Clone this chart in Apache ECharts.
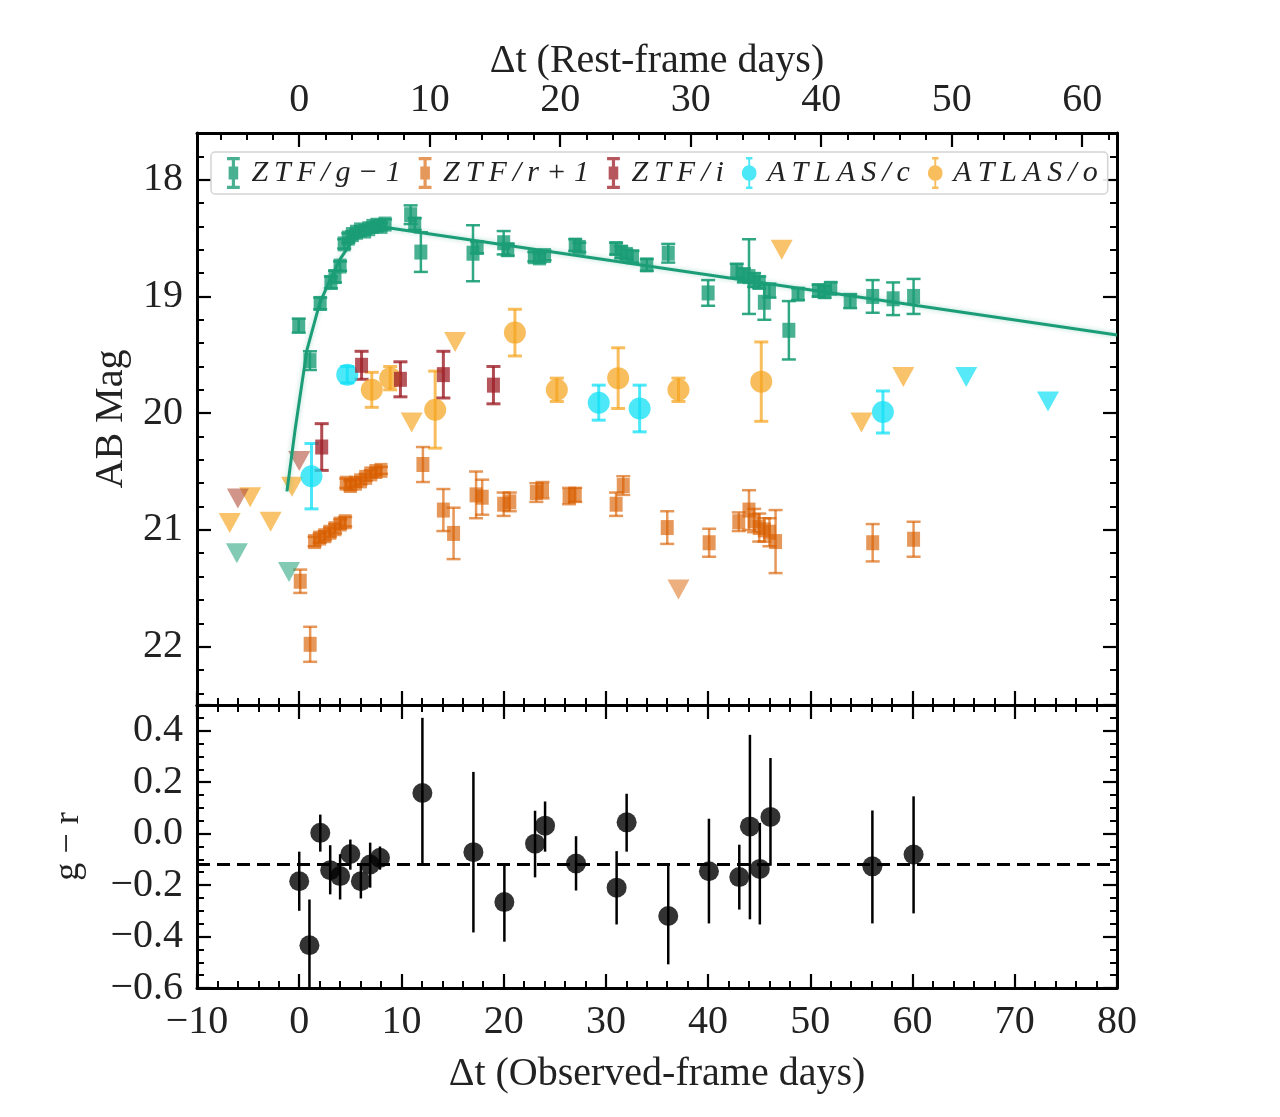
<!DOCTYPE html>
<html>
<head>
<meta charset="utf-8">
<title>Light curve</title>
<script src="https://cdn.jsdelivr.net/npm/echarts@6/dist/echarts.min.js"></script>
<style>
  html, body { margin: 0; padding: 0; background: #fff; }
  #main { width: 1280px; height: 1117px; }
</style>
</head>
<body>
<div id="main"></div>
<script>
// ---- data (observed-frame days, AB mag, 1 sigma) ----
// ZTF/g - 1
var gDays = [-0.05, 1.05, 2.05, 3.1, 3.5, 4.0, 4.4, 4.8, 5.2, 5.6, 6.0, 6.4, 6.8, 7.2, 7.6, 8.0, 8.4, 10.9, 11.3, 11.9, 17.0, 17.4, 20.0, 20.4, 23.0, 23.5, 24.0, 27.0, 27.4, 31.0, 31.5, 32.0, 32.6, 34.0, 36.1, 40.0, 42.8, 43.5, 44.0, 44.5, 45.0, 45.5, 46.0, 47.9, 48.8, 50.8, 51.4, 52.0, 53.9, 56.1, 58.1, 60.1];
var gMag = [19.25, 19.55, 19.06, 18.88, 18.83, 18.74, 18.55, 18.5, 18.47, 18.45, 18.43, 18.44, 18.42, 18.4, 18.39, 18.4, 18.38, 18.3, 18.38, 18.62, 18.63, 18.58, 18.54, 18.6, 18.66, 18.67, 18.65, 18.56, 18.58, 18.59, 18.62, 18.64, 18.66, 18.73, 18.63, 18.97, 18.78, 18.82, 18.83, 18.86, 18.88, 19.05, 18.95, 19.29, 18.98, 18.95, 18.96, 18.93, 19.04, 19.0, 19.02, 19.0];
var gErr = [0.06, 0.08, 0.05, 0.05, 0.05, 0.04, 0.04, 0.04, 0.03, 0.03, 0.03, 0.03, 0.03, 0.03, 0.03, 0.03, 0.04, 0.08, 0.05, 0.17, 0.24, 0.05, 0.1, 0.05, 0.04, 0.04, 0.04, 0.05, 0.04, 0.05, 0.05, 0.04, 0.05, 0.05, 0.08, 0.11, 0.06, 0.06, 0.32, 0.06, 0.05, 0.15, 0.06, 0.25, 0.05, 0.05, 0.05, 0.05, 0.06, 0.14, 0.14, 0.15];
// ZTF/r + 1
var rDays = [0.1, 1.07, 1.5, 2.0, 2.5, 3.0, 3.5, 4.0, 4.5, 4.6, 5.0, 5.5, 6.0, 6.5, 7.0, 7.5, 8.0, 12.1, 14.1, 15.1, 17.3, 17.9, 20.0, 20.6, 23.2, 23.8, 26.4, 27.0, 31.0, 31.7, 36.0, 40.1, 43.0, 44.0, 44.5, 45.0, 45.5, 46.0, 46.6, 56.1, 60.1];
var rMag = [21.44, 21.98, 21.1, 21.07, 21.05, 21.02, 20.99, 20.95, 20.93, 20.6, 20.62, 20.6, 20.58, 20.55, 20.52, 20.5, 20.49, 20.44, 20.83, 21.03, 20.7, 20.72, 20.78, 20.76, 20.68, 20.66, 20.71, 20.7, 20.78, 20.62, 20.98, 21.11, 20.93, 20.83, 20.92, 20.98, 21.0, 21.02, 21.1, 21.11, 21.08];
var rErr = [0.1, 0.15, 0.04, 0.04, 0.04, 0.04, 0.04, 0.04, 0.04, 0.04, 0.04, 0.03, 0.03, 0.03, 0.03, 0.03, 0.03, 0.15, 0.18, 0.22, 0.2, 0.15, 0.1, 0.08, 0.08, 0.07, 0.07, 0.06, 0.1, 0.08, 0.14, 0.12, 0.08, 0.17, 0.1, 0.12, 0.1, 0.12, 0.27, 0.16, 0.15];
// ZTF/i
var iDays = [2.2, 6.1, 9.9, 14.1, 19.0];
var iMag = [20.29, 19.59, 19.71, 19.67, 19.76];
var iErr = [0.2, 0.12, 0.15, 0.2, 0.16];
// ATLAS/c
var cDays = [1.2, 4.7, 29.3, 33.3, 57.1];
var cMag = [20.54, 19.67, 19.91, 19.96, 19.99];
var cErr = [0.28, 0.07, 0.15, 0.2, 0.18];
// ATLAS/o
var oDays = [7.1, 8.9, 13.3, 21.1, 25.2, 31.2, 37.1, 45.2];
var oMag = [19.8, 19.7, 19.97, 19.31, 19.8, 19.7, 19.8, 19.73];
var oErr = [0.15, 0.1, 0.33, 0.2, 0.1, 0.26, 0.1, 0.34];

// upper limits (down triangles)
var gLimDays = [-6.1, -1.0], gLimMag = [21.2, 21.36];
var iLimDays = [-6.0, 0.0], iLimMag = [20.73, 20.41];
var rLimDays = [37.1], rLimMag = [21.51];
var oLimDays = [-6.8, -4.8, -2.8, -0.7, 11.0, 15.25, 47.2, 55.0, 59.1];
var oLimMag = [20.94, 20.72, 20.93, 20.63, 20.08, 19.39, 18.6, 20.08, 19.69];
var cLimDays = [65.25, 73.25], cLimMag = [19.69, 19.9];

// model curve for g
var fitDays = [-1.2, -0.4, 0.75, 2, 3, 4, 5, 6, 7, 8.5, 80];
var fitMag = [20.67, 20.14, 19.46, 19.06, 18.86, 18.68, 18.55, 18.47, 18.43, 18.41, 19.33];

// g - r colour
var grDays = [0.0, 1.0, 2.06, 3.03, 4.0, 5.0, 6.03, 6.94, 7.9, 12.05, 17.04, 20.07, 23.07, 24.05, 27.08, 31.05, 32.03, 36.1, 40.08, 43.05, 44.09, 45.06, 46.1, 56.07, 60.1];
var grVal = [-0.185, -0.434, 0.003, -0.142, -0.165, -0.079, -0.185, -0.12, -0.094, 0.158, -0.072, -0.266, -0.039, 0.031, -0.116, -0.21, 0.044, -0.32, -0.146, -0.169, 0.028, -0.137, 0.065, -0.127, -0.081];
var grHi = [-0.07, -0.256, 0.074, -0.045, -0.08, -0.023, -0.12, -0.035, -0.05, 0.45, 0.24, -0.123, 0.089, 0.125, -0.01, -0.068, 0.155, -0.123, 0.058, -0.043, 0.384, 0.042, 0.294, 0.09, 0.145];
var grLo = [-0.30, -0.65, -0.07, -0.236, -0.256, -0.14, -0.252, -0.21, -0.14, -0.123, -0.384, -0.42, -0.17, -0.07, -0.221, -0.353, -0.07, -0.508, -0.349, -0.295, -0.333, -0.353, -0.125, -0.349, -0.31];
var grMean = -0.123;

// axes
var obsTicks = [-10, 80];
var restFactor = 1.2766;           // 1 + z
var restLabels = [0, 10, 20, 30, 40, 50, 60];
var restMinor = [-6, -4, -2, 2, 4, 6, 8, 12, 14, 16, 18, 22, 24, 26, 28, 32, 34, 36, 38, 42, 44, 46, 48, 52, 54, 56, 58, 62];
var magLabels = [18, 19, 20, 21, 22];
var magRange = [17.6, 22.5];
var grRange = [-0.6, 0.5];

var chart = echarts.init(document.getElementById('main'));

var FONT = 'Liberation Serif';
var teal = '#1b9e77', orange = '#d95f02', dred = '#9e1f28', cyan = '#11e0f5', gold = '#f5a31a';

function zip2(a, b) { return a.map(function (v, i) { return [v, b[i]]; }); }
function zipErr(x, m, e) { return x.map(function (v, i) { return [v, m[i] - e[i], m[i] + e[i]]; }); }
function zipLoHi(x, lo, hi) { return x.map(function (v, i) { return [v, lo[i], hi[i]]; }); }
function minus(s) { return String(s).replace('-', '\u2212'); }

// error bars with optional caps
function errRender(color, cap, lw, op) {
    return function (params, api) {
        var a = api.coord([api.value(0), api.value(1)]);
        var b = api.coord([api.value(0), api.value(2)]);
        var st = { stroke: color, lineWidth: lw, opacity: op };
        var kids = [{ type: 'line', shape: { x1: a[0], y1: a[1], x2: b[0], y2: b[1] }, style: st }];
        if (cap) {
            kids.push({ type: 'line', shape: { x1: a[0] - cap / 2, y1: a[1], x2: a[0] + cap / 2, y2: a[1] }, style: st });
            kids.push({ type: 'line', shape: { x1: b[0] - cap / 2, y1: b[1], x2: b[0] + cap / 2, y2: b[1] }, style: st });
        }
        return { type: 'group', children: kids };
    };
}

function errSeries(data, color, cap, lw, op, xi, yi) {
    return {
        type: 'custom', xAxisIndex: xi, yAxisIndex: yi, clip: true, silent: true,
        renderItem: errRender(color, cap, lw, op),
        encode: { x: 0, y: [1, 2] },
        data: data, z: 2
    };
}

function markSeries(name, data, color, symbol, size, op) {
    return {
        name: name, type: 'scatter', xAxisIndex: 0, yAxisIndex: 0,
        symbol: symbol, symbolSize: size,
        itemStyle: { color: color, opacity: op },
        data: data, z: 3
    };
}

function limSeries(data, color, op) {
    return {
        type: 'scatter', xAxisIndex: 0, yAxisIndex: 0,
        symbol: 'triangle', symbolRotate: 180, symbolSize: [22, 20],
        itemStyle: { color: color, opacity: op },
        data: data, z: 3
    };
}

var lineBlack = { show: true, onZero: false, lineStyle: { color: '#000', width: 3 } };
var lineNone = { show: false, onZero: false };
var tickMajor = { show: true, inside: true, length: 14, lineStyle: { color: '#000', width: 2.2 } };
var tickMinor = { show: true, inside: true, length: 7, lineStyle: { color: '#000', width: 2 } };
var minorX = { show: true, splitNumber: 5, length: 7, lineStyle: { color: '#000', width: 2 } };
var minorY = { show: true, splitNumber: 4, length: 7, lineStyle: { color: '#000', width: 2 } };
var labelStyle = { fontFamily: FONT, fontSize: 40, color: '#222' };
var nameStyle = { fontFamily: FONT, fontSize: 40, color: '#222' };

var ztfIcon = 'path://M1,0H9V2H6V6H8V14H6V18H9V20H1V18H4V14H2V6H4V2H1Z';
var atlasIcon = 'path://M3,0H7V1.5H5.6V5.1A5,5 0 0 1 5.6,14.9V18.5H7V20H3V18.5H4.4V14.9A5,5 0 0 1 4.4,5.1V1.5H3Z';

var legendText = {
    'ZTF/g − 1': 'Z\u2009T\u2009F\u2009/\u2009g \u2212 1',
    'ZTF/r + 1': 'Z\u2009T\u2009F\u2009/\u2009r + 1',
    'ZTF/i': 'Z\u2009T\u2009F\u2009/\u2009i',
    'ATLAS/c': 'A\u2009T\u2009L\u2009A\u2009S\u2009/\u2009c',
    'ATLAS/o': 'A\u2009T\u2009L\u2009A\u2009S\u2009/\u2009o'
};

var option = {
    backgroundColor: '#fff',
    animation: false,
    grid: [
        { left: 197, top: 133, width: 920, height: 572 },
        { left: 197, top: 133, width: 920, height: 572 },
        { left: 197, top: 705, width: 920, height: 283 }
    ],
    legend: {
        left: 211, top: 152,
        itemWidth: 18, itemHeight: 32, itemGap: 18,
        padding: [5, 10, 5, 16],
        backgroundColor: 'rgba(255,255,255,0.9)',
        borderColor: '#d4d4d4', borderWidth: 1.5, borderRadius: 4,
        textStyle: { fontFamily: FONT, fontStyle: 'italic', fontSize: 30, color: '#222', padding: [0, 0, 0, 4] },
        formatter: function (n) { return legendText[n]; },
        data: [
            { name: 'ZTF/g − 1', icon: ztfIcon },
            { name: 'ZTF/r + 1', icon: ztfIcon },
            { name: 'ZTF/i', icon: ztfIcon },
            { name: 'ATLAS/c', icon: atlasIcon },
            { name: 'ATLAS/o', icon: atlasIcon }
        ],
        z: 10
    },
    xAxis: [
        { // 0: top panel, bottom edge
            type: 'value', gridIndex: 0, position: 'bottom',
            min: obsTicks[0], max: obsTicks[1], interval: 10,
            axisLine: lineBlack, axisTick: tickMajor, minorTick: minorX,
            axisLabel: { show: false }, splitLine: { show: false }
        },
        { // 1: top panel, rest-frame axis
            type: 'value', gridIndex: 0, position: 'top',
            min: obsTicks[0] / restFactor, max: obsTicks[1] / restFactor,
            axisLine: lineBlack,
            axisTick: Object.assign({ customValues: restLabels }, tickMajor),
            axisLabel: Object.assign({ customValues: restLabels, margin: 13 }, labelStyle),
            splitLine: { show: false },
            name: 'Δt (Rest-frame days)', nameLocation: 'middle', nameGap: 52,
            nameMoveOverlap: false,
            nameTextStyle: nameStyle
        },
        { // 2: rest-frame minor ticks
            type: 'value', gridIndex: 1, position: 'top',
            min: obsTicks[0] / restFactor, max: obsTicks[1] / restFactor,
            axisLine: lineNone,
            axisTick: Object.assign({ customValues: restMinor }, tickMinor),
            axisLabel: { show: false }, splitLine: { show: false }
        },
        { // 3: bottom panel, bottom
            type: 'value', gridIndex: 2, position: 'bottom',
            min: obsTicks[0], max: obsTicks[1], interval: 10,
            axisLine: lineBlack, axisTick: tickMajor, minorTick: minorX,
            axisLabel: Object.assign({ margin: 14, formatter: function (v) { return minus(v); } }, labelStyle),
            splitLine: { show: false },
            name: 'Δt (Observed-frame days)', nameLocation: 'middle', nameGap: 66,
            nameTextStyle: nameStyle
        },
        { // 4: bottom panel, top edge
            type: 'value', gridIndex: 2, position: 'top',
            min: obsTicks[0], max: obsTicks[1], interval: 10,
            axisLine: lineBlack, axisTick: tickMajor, minorTick: minorX,
            axisLabel: { show: false }, splitLine: { show: false }
        }
    ],
    yAxis: [
        { // 0: mag, left
            type: 'value', gridIndex: 0, position: 'left', inverse: true,
            min: magRange[0], max: magRange[1],
            axisLine: lineBlack,
            axisTick: Object.assign({ customValues: magLabels }, tickMajor),
            axisLabel: Object.assign({ customValues: magLabels, margin: 14 }, labelStyle),
            splitLine: { show: false },
            name: 'AB Mag', nameLocation: 'middle', nameGap: 66,
            nameTextStyle: nameStyle
        },
        { // 1: mag, right
            type: 'value', gridIndex: 0, position: 'right', inverse: true,
            min: magRange[0], max: magRange[1],
            axisLine: lineBlack,
            axisTick: Object.assign({ customValues: magLabels }, tickMajor),
            axisLabel: { show: false }, splitLine: { show: false }
        },
        { // 2: mag minor ticks, left
            type: 'value', gridIndex: 1, position: 'left', inverse: true,
            min: magRange[0], max: magRange[1], interval: 0.2,
            axisLine: lineNone, axisTick: tickMinor,
            axisLabel: { show: false }, splitLine: { show: false }
        },
        { // 3: mag minor ticks, right
            type: 'value', gridIndex: 1, position: 'right', inverse: true,
            min: magRange[0], max: magRange[1], interval: 0.2,
            axisLine: lineNone, axisTick: tickMinor,
            axisLabel: { show: false }, splitLine: { show: false }
        },
        { // 4: g - r, left
            type: 'value', gridIndex: 2, position: 'left',
            min: grRange[0], max: grRange[1], interval: 0.2,
            axisLine: lineBlack, axisTick: tickMajor, minorTick: minorY,
            axisLabel: Object.assign({
                margin: 14, showMaxLabel: false,
                formatter: function (v) { return Math.abs(v) < 1e-9 ? '0.0' : minus(v.toFixed(1)); }
            }, labelStyle),
            splitLine: { show: false },
            name: 'g \u2212 r', nameLocation: 'middle', nameGap: 110,
            nameTextStyle: { fontFamily: FONT, fontSize: 36, color: '#222' }
        },
        { // 5: g - r, right
            type: 'value', gridIndex: 2, position: 'right',
            min: grRange[0], max: grRange[1], interval: 0.2,
            axisLine: lineBlack, axisTick: tickMajor, minorTick: minorY,
            axisLabel: { show: false }, splitLine: { show: false }
        }
    ],
    series: [
        // upper limits
        limSeries(zip2(oLimDays, oLimMag), gold, 0.65),
        limSeries(zip2(gLimDays, gLimMag), teal, 0.55),
        limSeries(zip2(iLimDays, iLimMag), '#b2503a', 0.6),
        limSeries(zip2(rLimDays, rLimMag), orange, 0.5),
        limSeries(zip2(cLimDays, cLimMag), cyan, 0.7),

        // ATLAS
        errSeries(zipErr(oDays, oMag, oErr), gold, 14, 3, 0.7, 0, 0),
        markSeries('ATLAS/o', zip2(oDays, oMag), gold, 'circle', 22, 0.7),
        errSeries(zipErr(cDays, cMag, cErr), cyan, 14, 3, 0.75, 0, 0),
        markSeries('ATLAS/c', zip2(cDays, cMag), cyan, 'circle', 22, 0.75),

        // ZTF
        errSeries(zipErr(rDays, rMag, rErr), orange, 14, 2.5, 0.65, 0, 0),
        markSeries('ZTF/r + 1', zip2(rDays, rMag), orange, 'rect', [13, 15], 0.65),
        errSeries(zipErr(iDays, iMag, iErr), dred, 14, 3, 0.8, 0, 0),
        markSeries('ZTF/i', zip2(iDays, iMag), dred, 'rect', [13, 15], 0.75),
        errSeries(zipErr(gDays, gMag, gErr), teal, 14, 2.5, 0.9, 0, 0),
        markSeries('ZTF/g − 1', zip2(gDays, gMag), teal, 'rect', [13, 15], 0.8),

        // g model
        {
            type: 'line', xAxisIndex: 0, yAxisIndex: 0,
            data: zip2(fitDays, fitMag), showSymbol: false, silent: true,
            lineStyle: { color: teal, width: 3, shadowBlur: 5, shadowColor: 'rgba(27,158,119,0.35)' },
            z: 4
        },

        // colour panel
        errSeries(zipLoHi(grDays, grLo, grHi), '#000', 0, 2.5, 1, 3, 4),
        {
            type: 'scatter', xAxisIndex: 3, yAxisIndex: 4,
            symbol: 'circle', symbolSize: 20,
            itemStyle: { color: '#000' },
            data: zip2(grDays, grVal), z: 3,
            markLine: {
                silent: true, symbol: 'none', label: { show: false },
                lineStyle: { color: '#000', width: 3, type: [13, 7] },
                data: [{ yAxis: grMean }]
            }
        }
    ]
};

chart.setOption(option);
</script>
</body>
</html>
